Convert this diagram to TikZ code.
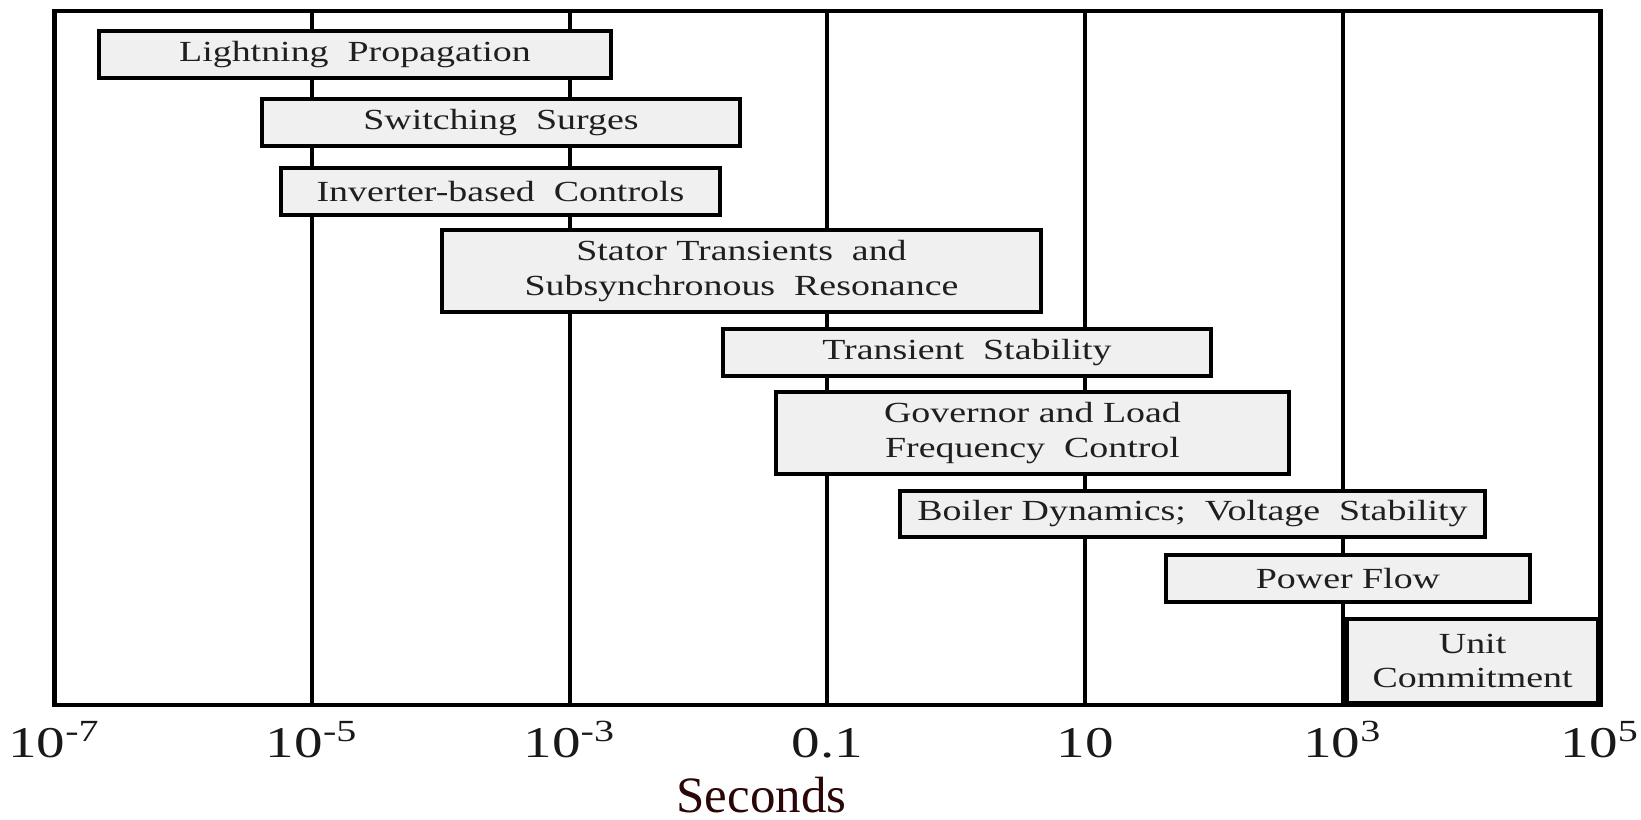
\documentclass[tikz,border=0pt]{standalone}
\usepackage{fontspec}
\setmainfont{Liberation Serif}
\newfontfamily\widefont{Liberation Serif}[FakeStretch=1.3]
\usetikzlibrary{positioning, calc}
\definecolor{boxfill}{HTML}{F0F0F0}
\definecolor{secred}{HTML}{2B0606}

\begin{document}
\begin{tikzpicture}[
    timebox/.style={draw, fill=boxfill, line width=1.1pt, inner sep=0pt, align=center,
        text=black!88, font=\widefont\fontsize{8.3}{9.7}\selectfont},
    gridline/.style={line width=1.1pt},
    frameline/.style={line width=1.4pt},
    ticklabel/.style={anchor=base, text=black!90, font=\widefont\fontsize{12.5}{14}\selectfont}
]
    \useasboundingbox (0,0) rectangle (16.41,8.19);

    % frame corners and decade lines
    \coordinate (sw) at (0.544,1.14);
    \coordinate (ne) at (16.003,8.08);
    \foreach \k in {1,...,5}
        \draw[gridline] ($(sw)+(2.5765*\k,0)$) -- ($(sw)+(2.5765*\k,6.94)$);
    \draw[frameline] (sw) rectangle (ne);

    % time scale labels
    \foreach \lab [count=\i from 0] in {10\textsuperscript{-7}, 10\textsuperscript{-5},
            10\textsuperscript{-3}, 0.1, 10, 10\textsuperscript{3}, 10\textsuperscript{5}}
        \node[ticklabel] (tick\i) at (0.544+2.5765*\i,0.62) {\lab};
    \node[anchor=base, text=secred, font=\fontsize{14.5}{16}\selectfont] (seconds) at (7.615,0.07) {Seconds};

    % phenomena
    \node[timebox, minimum width=5.125cm, minimum height=0.475cm] (lightning) at (3.55,7.645) {Lightning\ \ Propagation};
    \node[timebox, minimum width=4.785cm, minimum height=0.475cm] (switching) at (5.01,6.965) {Switching\ \ Surges};
    \node[timebox, minimum width=4.395cm, minimum height=0.475cm] (inverter) at (5.005,6.275) {Inverter-based\ \ Controls};
    \node[timebox, minimum width=5.995cm, minimum height=0.825cm] (stator) at (7.415,5.48) {Stator Transients\ \ and\\Subsynchronous\ \ Resonance};
    \node[timebox, minimum width=4.885cm, minimum height=0.475cm] (transient) at (9.67,4.665) {Transient\ \ Stability};
    \node[timebox, minimum width=5.135cm, minimum height=0.825cm] (governor) at (10.325,3.86) {Governor and Load\\Frequency\ \ Control};
    \node[timebox, minimum width=5.855cm, minimum height=0.465cm] (boiler) at (11.925,3.05) {Boiler Dynamics;\ \ Voltage\ \ Stability};
    \node[timebox, minimum width=3.645cm, minimum height=0.475cm] (powerflow) at (13.48,2.405) {Power Flow};
    \node[timebox, minimum width=2.5125cm, minimum height=0.845cm] (unit) at (14.726,1.58) {Unit\\Commitment};
\end{tikzpicture}
\end{document}
